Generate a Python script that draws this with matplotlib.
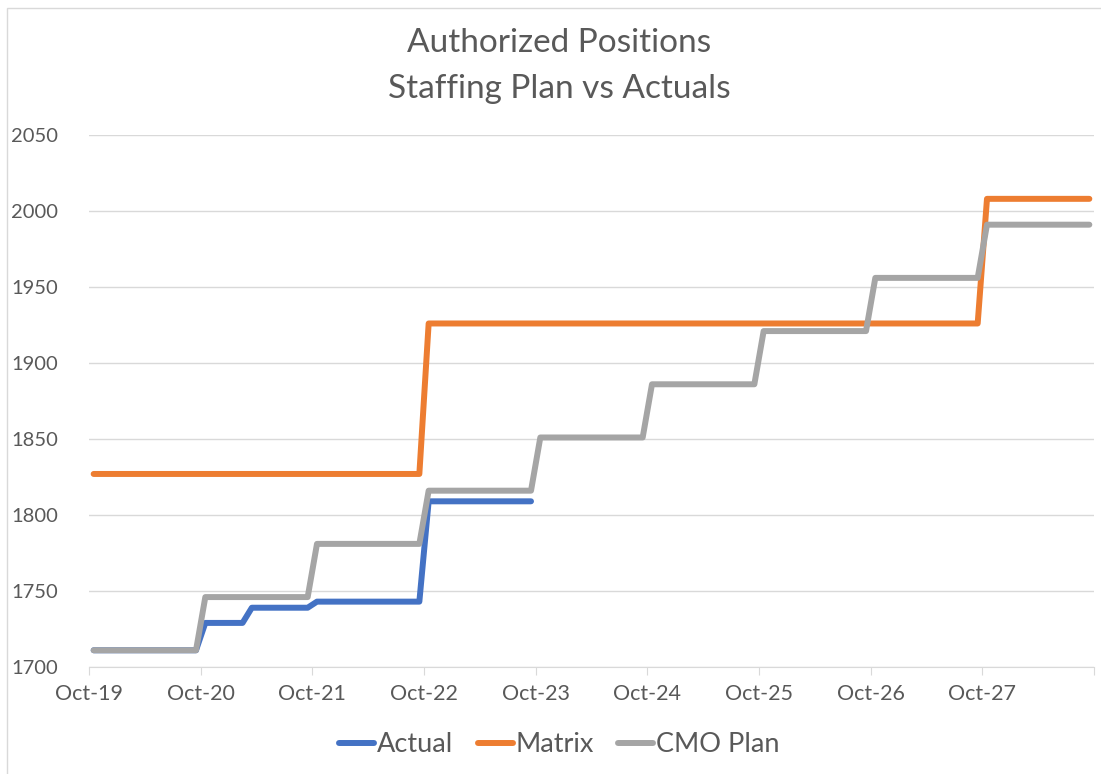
import numpy as np
import matplotlib.pyplot as plt
from matplotlib.patches import Rectangle

plt.rcParams['font.family'] = ['Lato', 'DejaVu Sans']

# Monthly values, Oct-19 .. Sep-28
actual = [1711] * 12 + [1729] * 5 + [1739] * 7 + [1743] * 12 + [1809] * 12
matrix = [1827] * 36 + [1926] * 60 + [2008] * 12
cmo_plan = ([1711] * 12 + [1746] * 12 + [1781] * 12 + [1816] * 12 + [1851] * 12
            + [1886] * 12 + [1921] * 12 + [1956] * 12 + [1991] * 12)

tick_labels = ["Oct-19", "Oct-20", "Oct-21", "Oct-22", "Oct-23",
               "Oct-24", "Oct-25", "Oct-26", "Oct-27"]

txt = "#595959"
grid = "#D9D9D9"

fig = plt.figure(figsize=(11.01, 7.74), dpi=100)
ax = fig.add_axes([89 / 1101, 1 - 667 / 774, (1094 - 89) / 1101, (667 - 135) / 774])

# outer chart frame (only left/top visible in the reference)
fig.patches.append(Rectangle((7 / 1101, -0.1), 1.2, 1 - 8 / 774 + 0.1,
                             transform=fig.transFigure, fill=False,
                             edgecolor=grid, linewidth=1))

x_a = np.arange(len(actual)) + 0.5
x_m = np.arange(len(matrix)) + 0.5
x_c = np.arange(len(cmo_plan)) + 0.5

lw = 4.3
ax.plot(x_a, actual, color="#4472C4", lw=lw, solid_capstyle="round",
        solid_joinstyle="round", label="Actual", zorder=3)
ax.plot(x_m, matrix, color="#ED7D31", lw=lw, solid_capstyle="round",
        solid_joinstyle="round", label="Matrix", zorder=3)
ax.plot(x_c, cmo_plan, color="#A5A5A5", lw=lw, solid_capstyle="round",
        solid_joinstyle="round", label="CMO Plan", zorder=4)

ax.set_xlim(0, 108)
ax.set_ylim(1700, 2050)
ax.set_yticks(np.arange(1700, 2051, 50))
ax.yaxis.grid(True, color=grid, lw=1)
ax.set_axisbelow(True)

ax.set_xticks(np.arange(0, 109, 12))
ax.set_xticklabels(tick_labels + [""])

for s in ["top", "right", "left"]:
    ax.spines[s].set_visible(False)
ax.spines["bottom"].set_color(grid)
ax.tick_params(axis="y", length=0, pad=22, labelsize=14.5, labelcolor=txt)
ax.tick_params(axis="x", length=6, color=grid, pad=6, labelsize=15.5, labelcolor=txt)

fig.text(0.508, 1 - 43 / 774, "Authorized Positions", ha="center", va="center",
         fontsize=24, color=txt)
fig.text(0.508, 1 - 89 / 774, "Staffing Plan vs Actuals", ha="center", va="center",
         fontsize=24, color=txt)

leg = fig.legend(loc="center", bbox_to_anchor=(0.508, 1 - 745 / 774), ncol=3,
                 frameon=False, fontsize=19.5, handlelength=1.3, handletextpad=0.1,
                 columnspacing=0.9)
for t in leg.get_texts():
    t.set_color(txt)

fig.savefig("out.png", dpi=100)
